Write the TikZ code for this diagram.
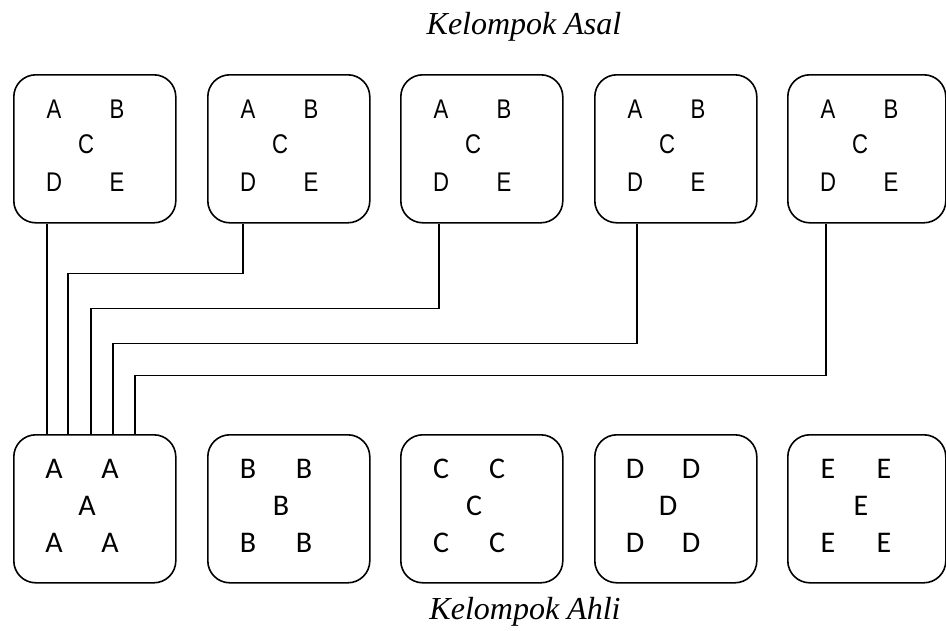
\documentclass[tikz,border=0pt]{standalone}
\usepackage{fontspec}
\setmainfont{Liberation Serif}
\newfontfamily\topfont[FakeStretch=0.82]{Liberation Sans}
\newfontfamily\botfont{Carlito}
\begin{document}
\begin{tikzpicture}[x=1pt,y=-1pt,
  box/.style={draw,line width=1.6pt,rounded corners=22pt,minimum width=162pt,minimum height=148pt,anchor=north west,inner sep=0pt},
  link/.style={line width=1.6pt},
  tl/.style={font=\topfont\fontsize{27}{27}\selectfont,inner sep=0pt},
  bl/.style={font=\botfont\fontsize{30}{30}\selectfont,inner sep=0pt},
  title/.style={font=\itshape\fontsize{32}{32}\selectfont,inner sep=0pt}]
\useasboundingbox (0,0) rectangle (946,630);
\node[title] (asal) at (524,27) {Kelompok Asal};
\node[title] (ahli) at (525,612) {Kelompok Ahli};
% top boxes
\foreach \i/\x in {1/13,2/207,3/400,4/594} {
  \node[box] (t\i) at (\x,74) {};
  \node[tl] (ta\i) at (\x+41,109) {A};
  \node[tl] (tb\i) at (\x+104,109) {B};
  \node[tl] (tc\i) at (\x+73,144) {C};
  \node[tl] (td\i) at (\x+41,182) {D};
  \node[tl] (te\i) at (\x+104,182) {E};
}
\node[box,minimum width=158pt] (t5) at (787,74) {};
\node[tl] (ta5) at (828,109) {A};
\node[tl] (tb5) at (891,109) {B};
\node[tl] (tc5) at (860,144) {C};
\node[tl] (td5) at (828,182) {D};
\node[tl] (te5) at (891,182) {E};
% bottom boxes
\foreach \i/\x/\L in {1/13/A,2/207/B,3/400/C,4/594/D} {
  \node[box] (b\i) at (\x,434) {};
  \node[bl] (ba\i) at (\x+41,469) {\L};
  \node[bl] (bb\i) at (\x+97,469) {\L};
  \node[bl] (bc\i) at (\x+74,506) {\L};
  \node[bl] (bd\i) at (\x+41,543) {\L};
  \node[bl] (be\i) at (\x+97,543) {\L};
}
\node[box,minimum width=158pt] (b5) at (787,434) {};
\node[bl] (ba5) at (828,469) {E};
\node[bl] (bb5) at (884,469) {E};
\node[bl] (bc5) at (861,506) {E};
\node[bl] (bd5) at (828,543) {E};
\node[bl] (be5) at (884,543) {E};
% connectors
\draw[link] ([xshift=34pt]t1.south west) -- ([xshift=34pt]b1.north west);
\draw[link] ([xshift=36pt]t2.south west) -- ++(0,50) -| ([xshift=55pt]b1.north west);
\draw[link] ([xshift=39pt]t3.south west) -- ++(0,85) -| ([xshift=78pt]b1.north west);
\draw[link] ([xshift=43pt]t4.south west) -- ++(0,120) -| ([xshift=100pt]b1.north west);
\draw[link] ([xshift=39pt]t5.south west) -- ++(0,152) -| ([xshift=122pt]b1.north west);
\end{tikzpicture}
\end{document}
